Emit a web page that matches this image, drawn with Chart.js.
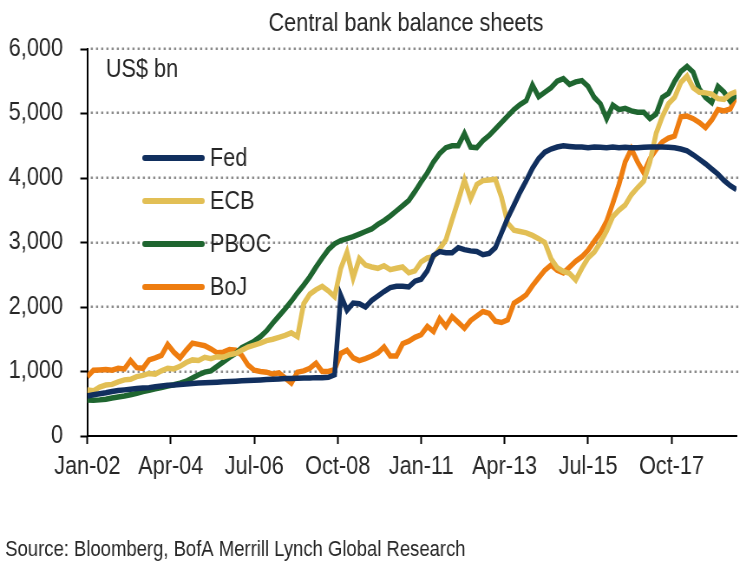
<!DOCTYPE html>
<html>
<head>
<meta charset="utf-8">
<script src="https://cdn.jsdelivr.net/npm/chart.js@4"></script>
<style>
	body { margin: 0; background: #fff; }
</style>
</head>
<body>
<canvas id="chart" width="860" height="563" style="width:746px;height:563px"></canvas>
<script>
// months since Jan-02, one point every two months
const months = Array.from({ length: 106 }, (_, i) => i * 2);
const tickMonths = [0, 27, 54, 81, 108, 135, 162, 189];
const tickLabels = ['Jan-02', 'Apr-04', 'Jul-06', 'Oct-08', 'Jan-11', 'Apr-13', 'Jul-15', 'Oct-17'];

const fed = [
	620, 640, 655, 670, 690, 705, 715, 725, 735, 745,
	750, 765, 775, 785, 790, 800, 805, 815, 820, 825,
	830, 835, 840, 845, 850, 855, 860, 865, 870, 875,
	880, 885, 890, 890, 895, 900, 900, 905, 905, 910,
	950, 2180, 1950, 2060, 2050, 2000, 2100, 2170, 2240, 2300,
	2320, 2320, 2310, 2400, 2430, 2560, 2800, 2860, 2840, 2840,
	2920, 2890, 2870, 2860, 2810, 2830, 2920, 3150, 3380, 3580,
	3780, 3960, 4150, 4300, 4400, 4450, 4480, 4500, 4490, 4480,
	4480, 4470, 4480, 4475, 4470, 4480, 4470, 4475, 4470, 4470,
	4475, 4480, 4480, 4480, 4475, 4470, 4450, 4420, 4360, 4290,
	4220, 4140, 4060, 3960, 3880, 3820
];
const ecb = [
	713, 700, 760, 790, 800, 840, 870, 880, 920, 940,
	970, 960, 1010, 1050, 1040, 1080, 1140, 1180, 1170, 1220,
	1200, 1230, 1220, 1260, 1280, 1330, 1380, 1410, 1440, 1480,
	1500, 1530, 1560, 1600, 1540, 2050, 2200, 2270, 2320, 2250,
	2160, 2600, 2850, 2450, 2750, 2650, 2620, 2600, 2640, 2580,
	2600, 2620, 2530, 2560, 2700, 2760, 2780, 2900, 3040, 3350,
	3650, 3970, 3680, 3900, 3960, 3970, 3980, 3700, 3300, 3190,
	3170, 3150, 3110, 3060, 3000, 2750, 2610, 2550, 2520, 2420,
	2600, 2760, 2850, 3000, 3180, 3400, 3500, 3580, 3740, 3850,
	3950, 4250, 4690, 4950, 5150, 5250, 5480, 5580, 5400, 5330,
	5320, 5300, 5230, 5220, 5300, 5340
];
const pboc = [
	560, 555, 560, 570, 590, 605, 620, 640, 660, 690,
	710, 730, 750, 775, 795, 820, 850, 900, 950, 990,
	1010, 1080, 1150, 1220, 1280, 1370, 1420, 1470, 1540, 1630,
	1750, 1860, 1970, 2090, 2220, 2340, 2470, 2620, 2760, 2890,
	2980, 3030, 3060, 3090, 3130, 3170, 3210, 3280, 3340, 3410,
	3490, 3570, 3650, 3790, 3940, 4080, 4250, 4380, 4470, 4500,
	4500, 4690, 4480, 4470, 4580, 4660, 4760, 4860, 4960, 5060,
	5140, 5200, 5440, 5260, 5330, 5400, 5500, 5540, 5450, 5490,
	5510, 5420, 5250, 5150, 4920, 5130, 5060, 5080, 5040, 5020,
	5020, 4920, 4990, 5250, 5310, 5500, 5650, 5730, 5640, 5380,
	5250, 5170, 5420, 5330, 5190, 5290
];
const boj = [
	920, 1020, 1025, 1030, 1020, 1050, 1040, 1170, 1060, 1050,
	1180, 1210, 1250, 1420, 1300, 1210, 1330, 1440, 1420, 1400,
	1350, 1290, 1300, 1340, 1330, 1250, 1100, 1020, 1000, 990,
	960, 980, 900, 820, 990, 1010, 1050, 1130, 1000, 1000,
	1030, 1280, 1330, 1210, 1170, 1200, 1240, 1290, 1380, 1240,
	1240, 1430, 1470, 1530, 1570, 1700, 1620, 1820, 1700, 1850,
	1760, 1670, 1790, 1860, 1930, 1900, 1780, 1760, 1800, 2060,
	2120, 2190, 2330, 2450, 2570, 2650, 2570, 2530, 2620, 2710,
	2780, 2880, 3020, 3150, 3330, 3610, 3900, 4250, 4450, 4250,
	4080, 4300, 4440, 4560, 4620, 4650, 4950, 4960, 4920, 4860,
	4780, 4900, 5060, 5040, 5070, 5270
];

const titleText = 'Central bank balance sheets';
const unitText = 'US$ bn';
const sourceText = 'Source: Bloomberg, BofA Merrill Lynch Global Research';

const fontFamily = '"Liberation Sans", Arial, sans-serif';
const textColor = '#262626';
const gridTicks = [1000, 2000, 3000, 4000, 5000, 6000];

// dotted horizontal grid as small squares, drawn before the lines
const dottedGrid = {
	id: 'dottedGrid',
	beforeDatasetsDraw(chart) {
		const ctx = chart.ctx;
		const area = chart.chartArea;
		const yScale = chart.scales.y;
		ctx.save();
		ctx.fillStyle = '#8c8c8c';
		gridTicks.forEach(v => {
			const py = Math.round(yScale.getPixelForValue(v));
			for (let px = area.left + 4; px < area.right; px += 6) {
				ctx.fillRect(px, py - 1.5, 2.5, 2.5);
			}
		});
		ctx.restore();
	}
};

// title, unit, legend inside the plot and source line
const annotations = {
	id: 'annotations',
	afterDraw(chart) {
		const ctx = chart.ctx;
		ctx.save();
		ctx.fillStyle = textColor;
		ctx.font = `25px ${fontFamily}`;
		ctx.textBaseline = 'alphabetic';
		ctx.textAlign = 'center';
		ctx.fillText(titleText, 468, 31);
		ctx.textAlign = 'left';
		ctx.fillText(unitText, 122, 77);

		ctx.textBaseline = 'middle';
		chart.data.datasets.forEach((ds, i) => {
			const y = 158 + i * 43;
			ctx.strokeStyle = ds.borderColor;
			ctx.lineWidth = 6;
			ctx.lineCap = 'round';
			ctx.beginPath();
			ctx.moveTo(167, y);
			ctx.lineTo(233, y);
			ctx.stroke();
			ctx.fillText(ds.label, 242, y + 1);
		});

		ctx.textBaseline = 'alphabetic';
		ctx.font = `21.3px ${fontFamily}`;
		ctx.fillText(sourceText, 6, 556);
		ctx.restore();
	}
};

const line = (label, data, color) => ({
	label, data,
	borderColor: color,
	backgroundColor: color,
	borderWidth: 5.5,
	pointRadius: 0,
	tension: 0,
	fill: false
});

new Chart(document.getElementById('chart'), {
	type: 'line',
	data: {
		labels: months,
		datasets: [
			line('Fed', fed, '#112f5e'),
			line('ECB', ecb, '#e2bf55'),
			line('PBOC', pboc, '#1f6630'),
			line('BoJ', boj, '#ee7d10')
		]
	},
	options: {
		responsive: false,
		animation: false,
		devicePixelRatio: 1,
		layout: { padding: { top: 49, right: 11, bottom: 82, left: 0 } },
		plugins: {
			legend: { display: false },
			title: { display: false },
			tooltip: { enabled: false }
		},
		scales: {
			x: {
				type: 'linear',
				min: 0,
				max: 210,
				afterBuildTicks: s => { s.ticks = tickMonths.map(v => ({ value: v })); },
				afterFit: s => { s.height = 45; },
				ticks: {
					autoSkip: false,
					maxRotation: 0,
					padding: 8,
					color: textColor,
					font: { size: 25, family: fontFamily },
					callback: (v, i) => tickLabels[i]
				},
				grid: { drawOnChartArea: false, drawTicks: true, tickLength: 8, tickColor: '#000', tickWidth: 2 },
				border: { color: '#000', width: 2 }
			},
			y: {
				min: 0,
				max: 6000,
				afterFit: s => { s.width = 100.6; },
				ticks: {
					stepSize: 1000,
					padding: 20,
					color: textColor,
					font: { size: 25, family: fontFamily }
				},
				grid: { drawOnChartArea: false, drawTicks: true, tickColor: '#000', tickLength: 8, tickWidth: 2 },
				border: { color: '#000', width: 2 }
			}
		}
	},
	plugins: [dottedGrid, annotations]
});
</script>
</body>
</html>
